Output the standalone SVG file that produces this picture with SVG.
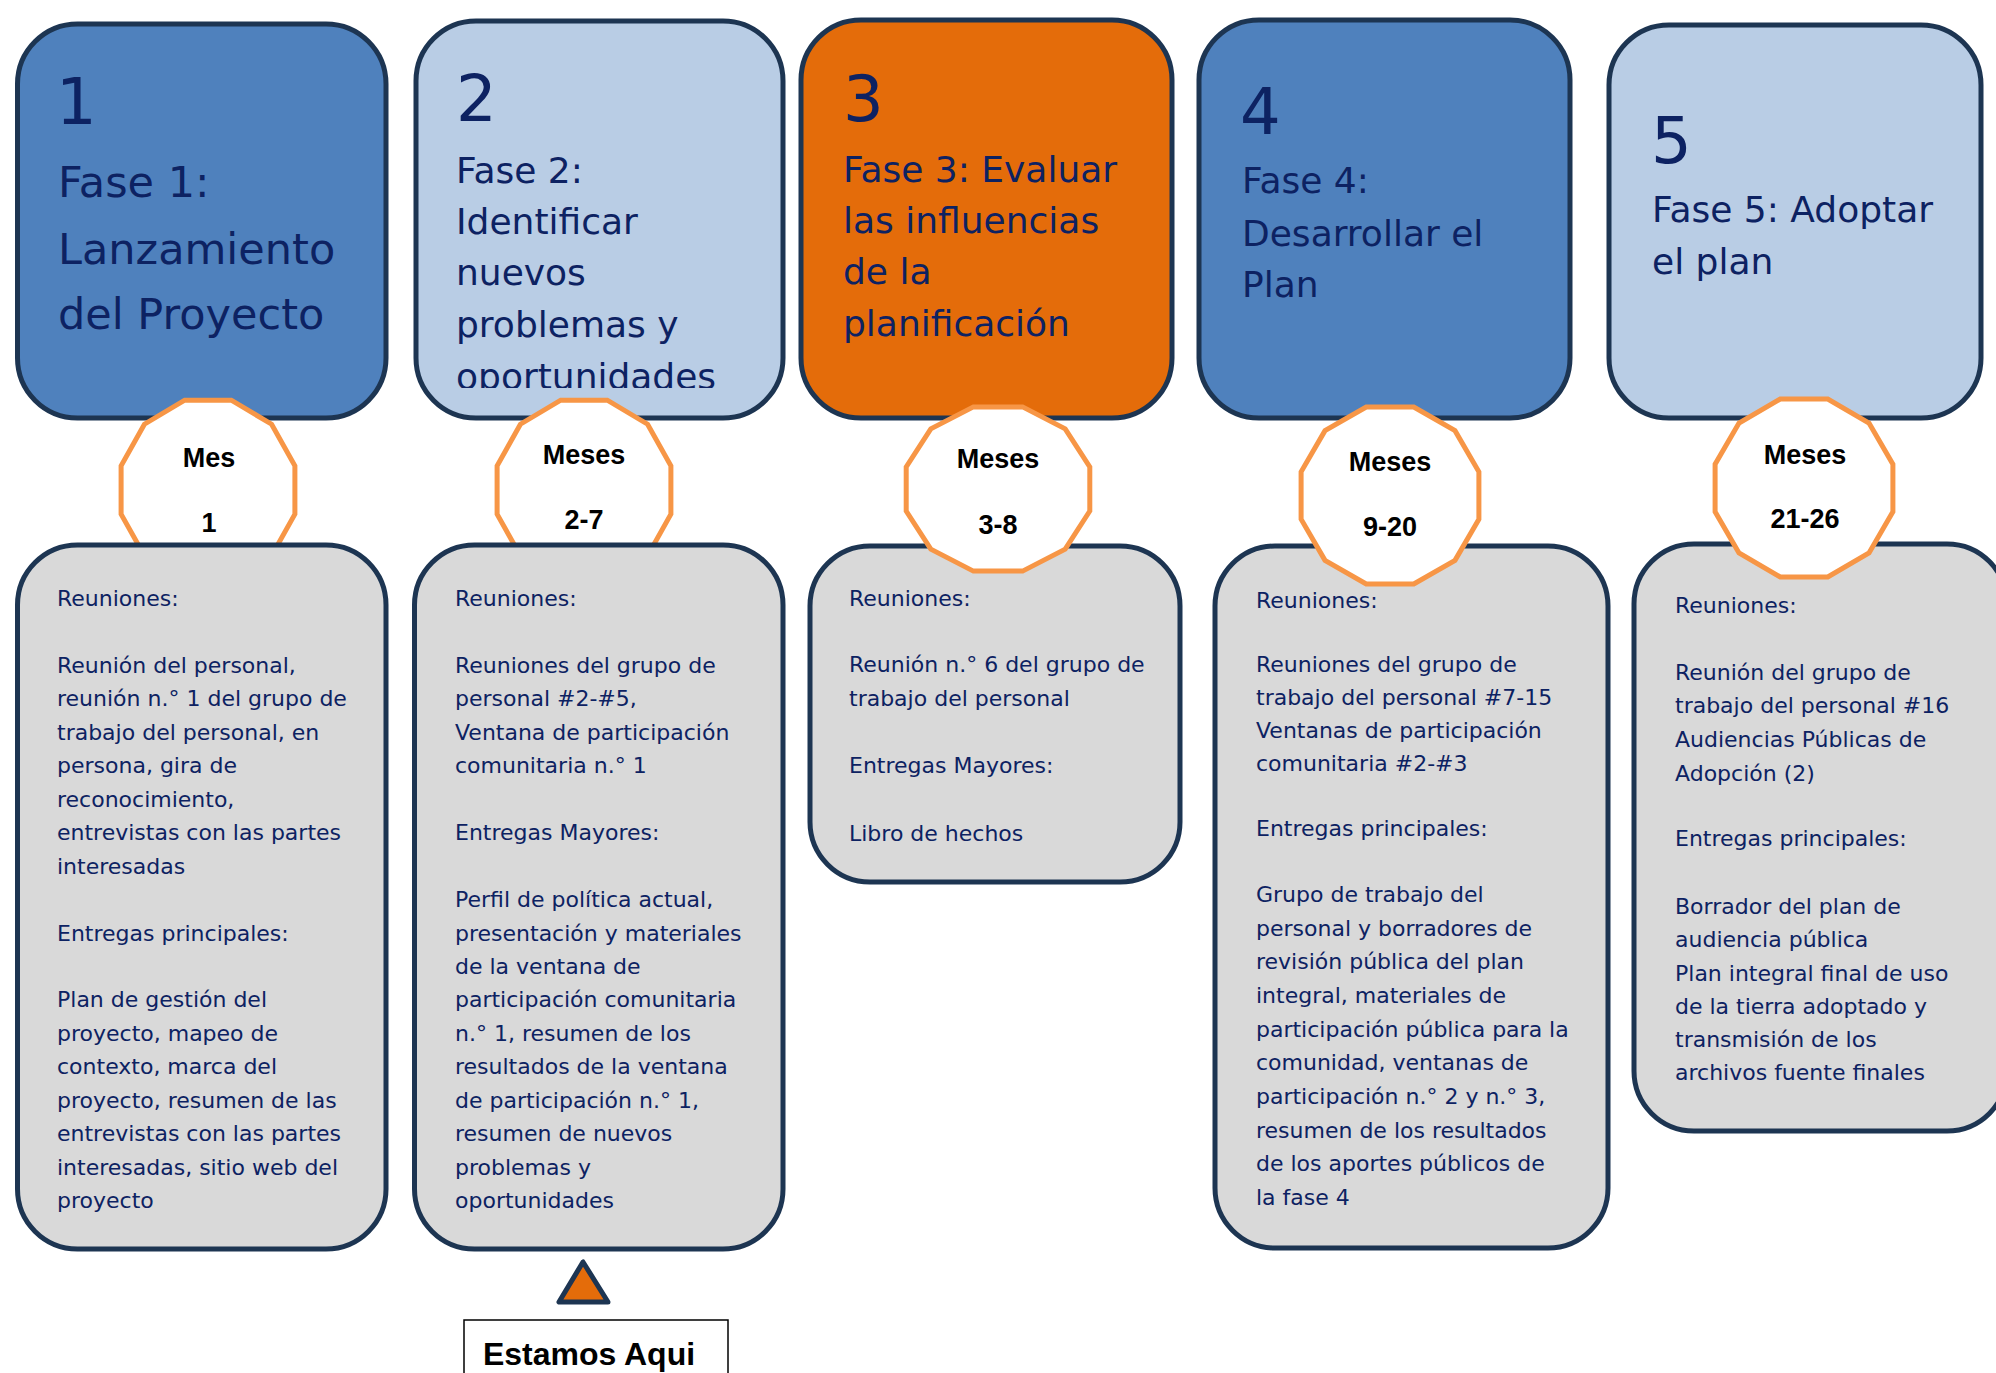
<svg xmlns="http://www.w3.org/2000/svg" width="1996" height="1373" viewBox="0 0 1996 1373">
<style>
.top{stroke:#1d3552;stroke-width:5}
.dark{fill:#4f81bd}
.light{fill:#b9cde5}
.orange{fill:#e46c0a}
.body{fill:#d9d9d9;stroke:#1d3552;stroke-width:5}
.badge{fill:#ffffff;stroke:#f79646;stroke-width:5;stroke-linejoin:miter}
.num{font-family:"DejaVu Sans",sans-serif;font-size:64px;fill:#0d2262}
.ttl{font-family:"DejaVu Sans",sans-serif;font-size:36px;fill:#0d2262}
.ttl1{font-family:"DejaVu Sans",sans-serif;font-size:43px;fill:#0d2262}
.txt{font-family:"DejaVu Sans",sans-serif;font-size:22px;fill:#0d2262}
.bt{font-family:"Liberation Sans",Arial,sans-serif;font-weight:bold;font-size:27px;fill:#000000;text-anchor:middle}
.here{font-family:"Liberation Sans",Arial,sans-serif;font-weight:bold;font-size:32px;fill:#000000;text-anchor:middle}
</style>
<defs>
<clipPath id="clip2"><rect x="410" y="0" width="380" height="388"/></clipPath>
</defs>

<g id="connectors"></g>

<g id="fase1">
<rect class="top dark" x="17.5" y="24" width="368.5" height="394" rx="60" ry="60"/>
<text class="num" x="56" y="124">1</text>
<text class="ttl1"><tspan x="58" y="197">Fase 1:</tspan><tspan x="58" y="264">Lanzamiento</tspan><tspan x="58" y="329">del Proyecto</tspan></text>
</g>

<g id="fase2">
<rect class="top light" x="416" y="21" width="367" height="397" rx="60" ry="60"/>
<text class="num" x="456" y="121">2</text>
<text class="ttl" clip-path="url(#clip2)"><tspan x="456" y="183">Fase 2:</tspan><tspan x="456" y="234">Identificar</tspan><tspan x="456" y="285">nuevos</tspan><tspan x="456" y="337">problemas y</tspan><tspan x="456" y="389">oportunidades</tspan></text>
</g>

<g id="fase3">
<rect class="top orange" x="801" y="20" width="371" height="398" rx="60" ry="60"/>
<text class="num" x="843" y="121">3</text>
<text class="ttl"><tspan x="843" y="182">Fase 3: Evaluar</tspan><tspan x="843" y="233">las influencias</tspan><tspan x="843" y="284">de la</tspan><tspan x="843" y="336">planificación</tspan></text>
</g>

<g id="fase4">
<rect class="top dark" x="1199" y="20" width="371" height="398" rx="60" ry="60"/>
<text class="num" x="1240" y="134">4</text>
<text class="ttl"><tspan x="1242" y="193">Fase 4:</tspan><tspan x="1242" y="246">Desarrollar el</tspan><tspan x="1242" y="297">Plan</tspan></text>
</g>

<g id="fase5">
<rect class="top light" x="1609" y="25" width="372" height="393" rx="60" ry="60"/>
<text class="num" x="1651" y="163">5</text>
<text class="ttl"><tspan x="1652" y="222">Fase 5: Adoptar</tspan><tspan x="1652" y="274">el plan</tspan></text>
</g>

<g id="meses1">
<polygon class="badge" points="294.9,514.1 271.6,555.8 231.3,579.8 184.7,579.8 144.4,555.8 121.1,514.1 121.1,465.9 144.4,424.2 184.7,400.2 231.3,400.2 271.6,424.2 294.9,465.9"/>
<text class="bt" x="209" y="467">Mes</text>
<text class="bt" x="209" y="532">1</text>
</g>

<g id="meses2">
<polygon class="badge" points="670.9,514.1 647.6,555.8 607.3,579.8 560.7,579.8 520.4,555.8 497.1,514.1 497.1,465.9 520.4,424.2 560.7,400.2 607.3,400.2 647.6,424.2 670.9,465.9"/>
<text class="bt" x="584" y="464">Meses</text>
<text class="bt" x="584" y="529">2-7</text>
</g>

<g id="detalle1">
<rect class="body" x="17.5" y="545" width="368.5" height="704" rx="60" ry="60"/>
<text class="txt">
<tspan x="57" y="606">Reuniones:</tspan>
<tspan x="57" y="672.9">Reunión del personal,</tspan>
<tspan x="57" y="706.4">reunión n.° 1 del grupo de</tspan>
<tspan x="57" y="739.8">trabajo del personal, en</tspan>
<tspan x="57" y="773.3">persona, gira de</tspan>
<tspan x="57" y="806.7">reconocimiento,</tspan>
<tspan x="57" y="840.2">entrevistas con las partes</tspan>
<tspan x="57" y="873.6">interesadas</tspan>
<tspan x="57" y="940.5">Entregas principales:</tspan>
<tspan x="57" y="1007.4">Plan de gestión del</tspan>
<tspan x="57" y="1040.9">proyecto, mapeo de</tspan>
<tspan x="57" y="1074.3">contexto, marca del</tspan>
<tspan x="57" y="1107.8">proyecto, resumen de las</tspan>
<tspan x="57" y="1141.2">entrevistas con las partes</tspan>
<tspan x="57" y="1174.7">interesadas, sitio web del</tspan>
<tspan x="57" y="1208.1">proyecto</tspan>
</text>
</g>

<g id="detalle2">
<rect class="body" x="414.5" y="545" width="368.5" height="704" rx="60" ry="60"/>
<text class="txt">
<tspan x="455" y="606">Reuniones:</tspan>
<tspan x="455" y="672.9">Reuniones del grupo de</tspan>
<tspan x="455" y="706.4">personal #2-#5,</tspan>
<tspan x="455" y="739.8">Ventana de participación</tspan>
<tspan x="455" y="773.3">comunitaria n.° 1</tspan>
<tspan x="455" y="840.2">Entregas Mayores:</tspan>
<tspan x="455" y="907.1">Perfil de política actual,</tspan>
<tspan x="455" y="940.5">presentación y materiales</tspan>
<tspan x="455" y="974">de la ventana de</tspan>
<tspan x="455" y="1007.4">participación comunitaria</tspan>
<tspan x="455" y="1040.9">n.° 1, resumen de los</tspan>
<tspan x="455" y="1074.3">resultados de la ventana</tspan>
<tspan x="455" y="1107.8">de participación n.° 1,</tspan>
<tspan x="455" y="1141.2">resumen de nuevos</tspan>
<tspan x="455" y="1174.7">problemas y</tspan>
<tspan x="455" y="1208.1">oportunidades</tspan>
</text>
</g>

<g id="detalle3">
<rect class="body" x="810" y="546" width="370" height="336" rx="60" ry="60"/>
<text class="txt">
<tspan x="849" y="606">Reuniones:</tspan>
<tspan x="849" y="672">Reunión n.° 6 del grupo de</tspan>
<tspan x="849" y="706">trabajo del personal</tspan>
<tspan x="849" y="773">Entregas Mayores:</tspan>
<tspan x="849" y="841">Libro de hechos</tspan>
</text>
</g>

<g id="detalle4">
<rect class="body" x="1215" y="546" width="393" height="702" rx="60" ry="60"/>
<text class="txt">
<tspan x="1256" y="608">Reuniones:</tspan>
<tspan x="1256" y="672">Reuniones del grupo de</tspan>
<tspan x="1256" y="705">trabajo del personal #7-15</tspan>
<tspan x="1256" y="738">Ventanas de participación</tspan>
<tspan x="1256" y="771">comunitaria #2-#3</tspan>
<tspan x="1256" y="836">Entregas principales:</tspan>
<tspan x="1256" y="902">Grupo de trabajo del</tspan>
<tspan x="1256" y="935.7">personal y borradores de</tspan>
<tspan x="1256" y="969.3">revisión pública del plan</tspan>
<tspan x="1256" y="1003">integral, materiales de</tspan>
<tspan x="1256" y="1036.7">participación pública para la</tspan>
<tspan x="1256" y="1070.3">comunidad, ventanas de</tspan>
<tspan x="1256" y="1104">participación n.° 2 y n.° 3,</tspan>
<tspan x="1256" y="1137.7">resumen de los resultados</tspan>
<tspan x="1256" y="1171.3">de los aportes públicos de</tspan>
<tspan x="1256" y="1205">la fase 4</tspan>
</text>
</g>

<g id="detalle5">
<rect class="body" x="1634" y="544" width="373" height="587" rx="60" ry="60"/>
<text class="txt">
<tspan x="1675" y="613">Reuniones:</tspan>
<tspan x="1675" y="680">Reunión del grupo de</tspan>
<tspan x="1675" y="713">trabajo del personal #16</tspan>
<tspan x="1675" y="747">Audiencias Públicas de</tspan>
<tspan x="1675" y="781">Adopción (2)</tspan>
<tspan x="1675" y="846">Entregas principales:</tspan>
<tspan x="1675" y="914">Borrador del plan de</tspan>
<tspan x="1675" y="947">audiencia pública</tspan>
<tspan x="1675" y="981">Plan integral final de uso</tspan>
<tspan x="1675" y="1014">de la tierra adoptado y</tspan>
<tspan x="1675" y="1047">transmisión de los</tspan>
<tspan x="1675" y="1080">archivos fuente finales</tspan>
</text>
</g>

<g id="meses3">
<polygon class="badge" points="1089.8,511 1065.2,549.1 1022.6,571.1 973.4,571.1 930.8,549.1 906.2,511 906.2,467 930.8,428.9 973.4,406.9 1022.6,406.9 1065.2,428.9 1089.8,467"/>
<text class="bt" x="998" y="468">Meses</text>
<text class="bt" x="998" y="534">3-8</text>
</g>

<g id="meses4">
<polygon class="badge" points="1478.9,519.2 1455,560.3 1413.8,584 1366.2,584 1325,560.3 1301.1,519.2 1301.1,471.8 1325,430.7 1366.2,407 1413.8,407 1455,430.7 1478.9,471.8"/>
<text class="bt" x="1390" y="471">Meses</text>
<text class="bt" x="1390" y="536">9-20</text>
</g>

<g id="meses5">
<polygon class="badge" points="1892.9,511.8 1869,553 1827.8,576.9 1780.2,576.9 1739,553 1715.1,511.8 1715.1,464.2 1739,423 1780.2,399.1 1827.8,399.1 1869,423 1892.9,464.2"/>
<text class="bt" x="1805" y="464">Meses</text>
<text class="bt" x="1805" y="528">21-26</text>
</g>

<g id="marcador">
<polygon points="583,1262 559,1302 608,1302" fill="#e46c0a" stroke="#1d3552" stroke-width="5" stroke-linejoin="round"/>
</g>

<g id="estamos-aqui">
<rect x="464" y="1320" width="264" height="60" fill="#ffffff" stroke="#000000" stroke-width="1.5"/>
<text class="here" x="589" y="1365">Estamos Aqui</text>
</g>
</svg>
